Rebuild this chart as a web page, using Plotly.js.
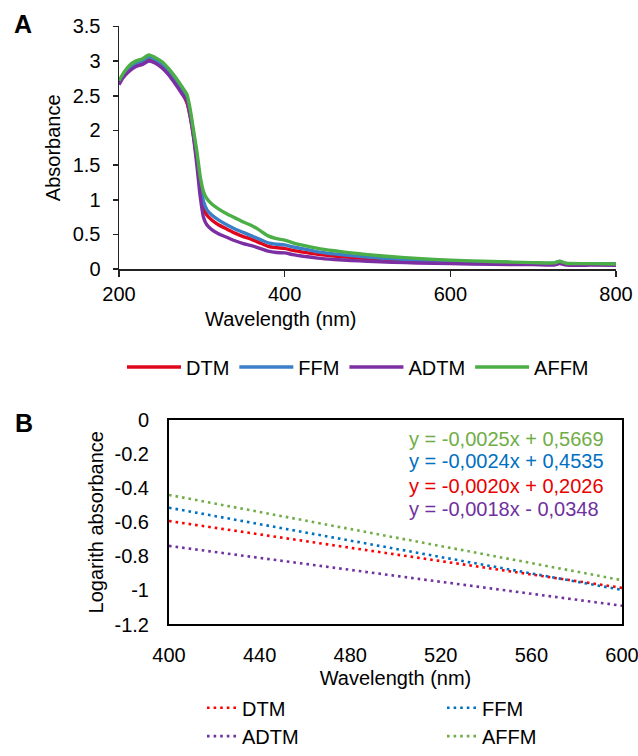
<!DOCTYPE html>
<html>
<head>
<meta charset="utf-8">
<script src="https://cdn.plot.ly/plotly-3.0.1.min.js"></script>
<style>html,body{margin:0;padding:0;background:#fff;}#chart{width:638px;height:756px;}</style>
</head>
<body>
<div id="chart"></div>
<script>
// ---------- Panel A data (absorbance spectra) ----------
const seriesNames = ['DTM', 'FFM', 'ADTM', 'AFFM'];
const wavelengthA = [200, 205, 212, 220, 228, 236, 244, 252, 260, 268, 276, 282, 286, 290, 294, 298, 302, 306, 312, 320, 330, 340, 350, 360, 370, 380, 390, 400, 410, 420, 440, 460, 480, 500, 530, 560, 600, 650, 700, 725, 732, 740, 770, 800];
const absDTM  = [2.69, 2.79, 2.88, 2.95, 2.98, 3.03, 2.99, 2.93, 2.83, 2.70, 2.55, 2.40, 2.20, 1.92, 1.58, 1.18, 0.88, 0.78, 0.71, 0.64, 0.58, 0.52, 0.47, 0.43, 0.38, 0.33, 0.31, 0.30, 0.27, 0.25, 0.215, 0.19, 0.17, 0.155, 0.135, 0.12, 0.105, 0.095, 0.085, 0.08, 0.105, 0.078, 0.075, 0.075];
const absFFM  = [2.70, 2.80, 2.90, 2.97, 3.00, 3.06, 3.02, 2.96, 2.86, 2.74, 2.60, 2.48, 2.25, 1.95, 1.62, 1.25, 0.98, 0.86, 0.78, 0.71, 0.64, 0.58, 0.53, 0.48, 0.43, 0.38, 0.36, 0.35, 0.32, 0.30, 0.25, 0.22, 0.195, 0.175, 0.15, 0.13, 0.115, 0.10, 0.09, 0.085, 0.11, 0.08, 0.077, 0.075];
const absADTM = [2.66, 2.76, 2.85, 2.92, 2.95, 3.00, 2.97, 2.90, 2.80, 2.67, 2.53, 2.42, 2.20, 1.90, 1.50, 1.05, 0.75, 0.64, 0.57, 0.51, 0.46, 0.41, 0.37, 0.34, 0.30, 0.26, 0.24, 0.235, 0.21, 0.19, 0.16, 0.14, 0.125, 0.115, 0.10, 0.09, 0.08, 0.07, 0.065, 0.06, 0.08, 0.06, 0.058, 0.055];
const absAFFM = [2.72, 2.82, 2.93, 3.00, 3.03, 3.09, 3.05, 2.99, 2.89, 2.77, 2.63, 2.52, 2.30, 2.00, 1.70, 1.34, 1.12, 1.02, 0.94, 0.87, 0.80, 0.74, 0.68, 0.63, 0.56, 0.48, 0.44, 0.42, 0.38, 0.35, 0.30, 0.265, 0.235, 0.21, 0.18, 0.155, 0.13, 0.11, 0.095, 0.09, 0.115, 0.085, 0.08, 0.075];
const xTicksA = [200, 400, 600, 800];
const yTicksA = [0, 0.5, 1, 1.5, 2, 2.5, 3, 3.5];
const yTickTextA = ['0', '0.5', '1', '1.5', '2', '2.5', '3', '3.5'];

// ---------- Panel B data (log absorbance trend lines) ----------
const wavelengthB = [400, 600];
const logDTM  = [-0.593, -0.985];
const logFFM  = [-0.515, -0.997];
const logADTM = [-0.739, -1.09];
const logAFFM = [-0.44, -0.94];
const xTicksB = [400, 440, 480, 520, 560, 600];
const yTicksB = [0, -0.2, -0.4, -0.6, -0.8, -1, -1.2];
const yTickTextB = ['0', '-0.2', '-0.4', '-0.6', '-0.8', '-1', '-1.2'];
const equationText = ['y = -0,0025x + 0,5669', 'y = -0,0024x + 0,4535', 'y = -0,0020x + 0,2026', 'y = -0,0018x - 0,0348'];

// ---------- styles ----------
const colorsA = {DTM: '#e0061b', FFM: '#3a7fc8', ADTM: '#7c2fa3', AFFM: '#4cae47'};
const colorsB = {DTM: '#ff0000', FFM: '#0070c0', ADTM: '#7030a0', AFFM: '#70ad47'};
const eqColors = [colorsB.AFFM, colorsB.FFM, '#e80000', colorsB.ADTM];
const FONT = 'Liberation Sans, Arial, sans-serif';
const W = 638, H = 756;
const px = v => v / W;
const py = v => 1 - v / H;

const absData = {DTM: absDTM, FFM: absFFM, ADTM: absADTM, AFFM: absAFFM};
const logData = {DTM: logDTM, FFM: logFFM, ADTM: logADTM, AFFM: logAFFM};

const traces = [];
seriesNames.forEach(n => {
  traces.push({
    type: 'scatter', mode: 'lines', name: n,
    x: wavelengthA, y: absData[n],
    xaxis: 'x', yaxis: 'y', legend: 'legend',
    line: {color: colorsA[n], width: 3.4, shape: 'spline', smoothing: 0.6}
  });
});
// one small legend per entry of panel B (2 x 2 grid)
const legendOfB = {DTM: 'legend2', FFM: 'legend3', ADTM: 'legend4', AFFM: 'legend5'};
seriesNames.forEach(n => {
  traces.push({
    type: 'scatter', mode: 'lines', name: n,
    x: wavelengthB, y: logData[n],
    xaxis: 'x2', yaxis: 'y2', legend: legendOfB[n],
    line: {color: colorsB[n], width: 2.6, dash: '2.6px,4px'}
  });
});

const tickFont = {family: FONT, size: 20, color: '#000'};
const annotations = [
  {text: '<b>A</b>', x: px(23), y: py(25), xref: 'paper', yref: 'paper', xanchor: 'center', yanchor: 'middle', showarrow: false, font: {family: FONT, size: 25, color: '#000'}},
  {text: '<b>B</b>', x: px(24), y: py(432), xref: 'paper', yref: 'paper', xanchor: 'center', yanchor: 'middle', showarrow: false, font: {family: FONT, size: 25, color: '#000'}},
  {text: 'Wavelength (nm)', x: px(281), y: py(326), xref: 'paper', yref: 'paper', xanchor: 'center', yanchor: 'middle', showarrow: false, font: {family: FONT, size: 20, color: '#000'}}
];
const eqY = [448, 471, 496.5, 519.5];
equationText.forEach((t, i) => {
  annotations.push({text: t, x: px(407), y: py(eqY[i]), xref: 'paper', yref: 'paper', xanchor: 'left', yanchor: 'middle', showarrow: false, font: {family: FONT, size: 20, color: eqColors[i]}});
});

const legendBase = {font: {family: FONT, size: 20, color: '#000'}, bgcolor: 'rgba(0,0,0,0)', borderwidth: 0, xref: 'paper', yref: 'paper', xanchor: 'left', yanchor: 'middle'};

const layout = {
  width: W, height: H,
  margin: {l: 0, r: 0, t: 0, b: 0},
  paper_bgcolor: '#fff', plot_bgcolor: '#fff',
  font: {family: FONT, size: 20, color: '#000'},
  xaxis: {
    domain: [px(119), px(616)], range: [200, 800], anchor: 'y',
    tickvals: xTicksA, ticks: 'outside', ticklen: 6, tickcolor: '#222', tickwidth: 1.5,
    showline: true, linecolor: '#222', linewidth: 1.5, showgrid: false, zeroline: false,
    tickfont: tickFont, ticklabeloverflow: 'allow'
  },
  yaxis: {
    domain: [py(275), py(27)], range: [0, 3.5], anchor: 'x',
    tickvals: yTicksA, ticktext: yTickTextA, ticks: 'outside', ticklen: 5, tickcolor: '#222', tickwidth: 1.5,
    showline: true, linecolor: '#222', linewidth: 1.5, showgrid: false, zeroline: false,
    tickfont: tickFont, ticklabelstandoff: 8,
    title: {text: 'Absorbance', font: {family: FONT, size: 20, color: '#000'}, standoff: 6}
  },
  xaxis2: {
    domain: [px(169), px(622)], range: [400, 600], anchor: 'y2',
    tickvals: xTicksB, ticks: 'outside', ticklen: 12, tickcolor: 'rgba(0,0,0,0)',
    showline: true, mirror: true, linecolor: '#000', linewidth: 2, showgrid: false, zeroline: false,
    tickfont: tickFont, ticklabeloverflow: 'allow',
    title: {text: 'Wavelength (nm)', font: {family: FONT, size: 20, color: '#000'}, standoff: 6}
  },
  yaxis2: {
    domain: [py(638), py(429)], range: [-1.2, 0], anchor: 'x2',
    tickvals: yTicksB, ticktext: yTickTextB, ticks: 'outside', ticklen: 14, tickcolor: 'rgba(0,0,0,0)',
    showline: true, mirror: true, linecolor: '#000', linewidth: 2, showgrid: false, zeroline: false,
    tickfont: tickFont,
    title: {text: 'Logarith absorbance', font: {family: FONT, size: 20, color: '#000'}, standoff: 6}
  },
  legend: Object.assign({}, legendBase, {orientation: 'h', x: px(122), y: py(375), itemwidth: 54}),
  legend2: Object.assign({}, legendBase, {x: px(202), y: py(723)}),
  legend3: Object.assign({}, legendBase, {x: px(442), y: py(723)}),
  legend4: Object.assign({}, legendBase, {x: px(202), y: py(752)}),
  legend5: Object.assign({}, legendBase, {x: px(442), y: py(752)}),
  annotations: annotations,
  showlegend: true
};

Plotly.newPlot('chart', traces, layout, {staticPlot: true, displayModeBar: false});
</script>
</body>
</html>
